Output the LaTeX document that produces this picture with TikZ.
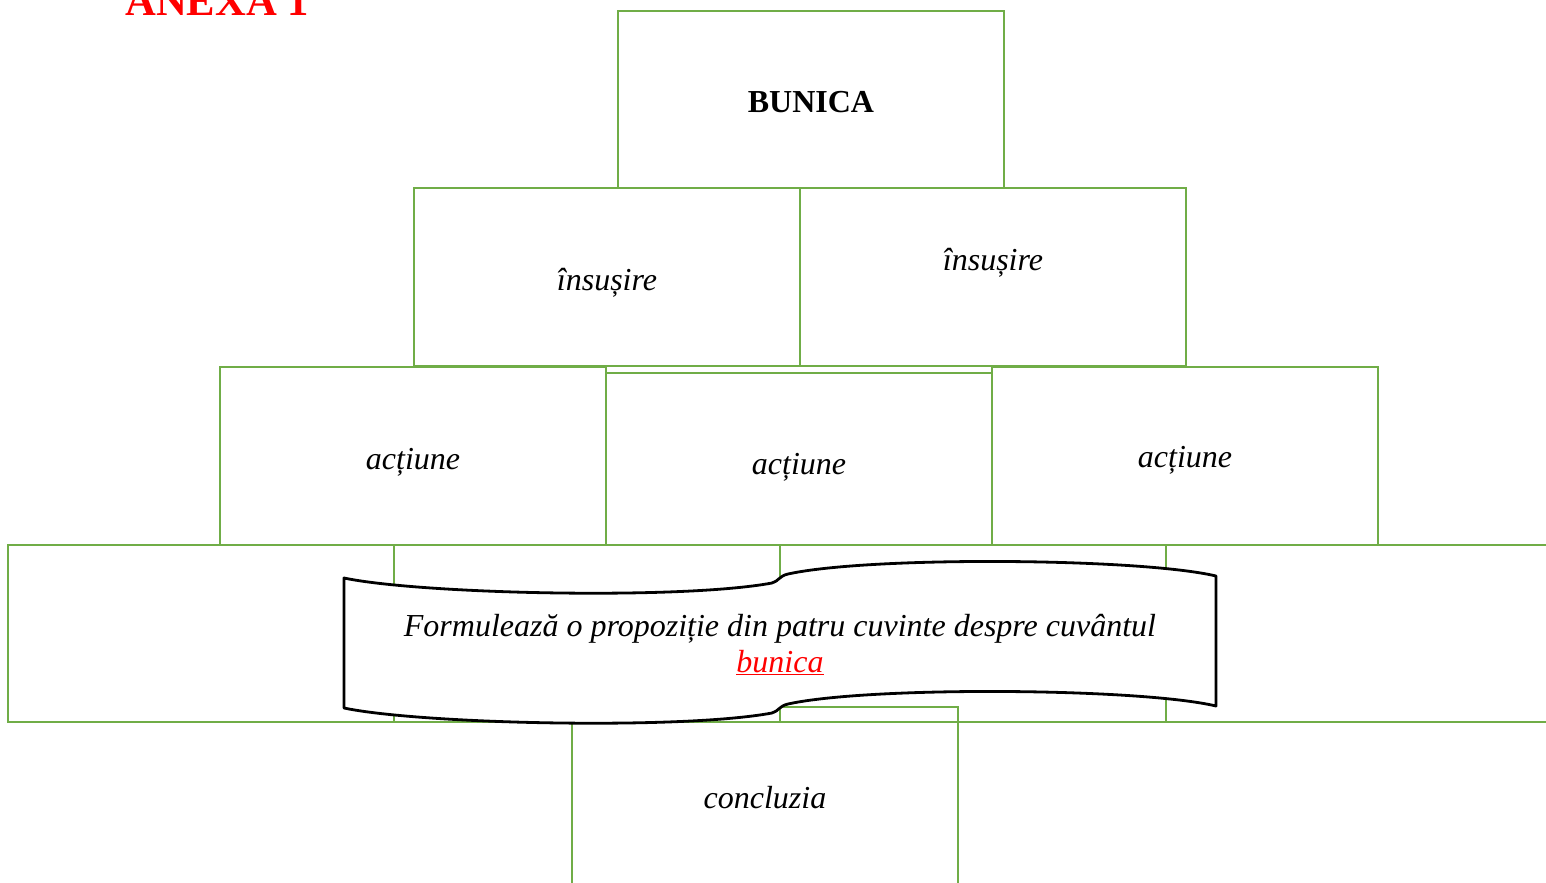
\documentclass[tikz,border=0pt]{standalone}
\usepackage{fontspec}
\setmainfont{Liberation Serif}
\definecolor{boxgreen}{HTML}{70AD47}
\definecolor{anexred}{HTML}{FF0000}
\begin{document}
\begin{tikzpicture}[x=0.75pt,y=-0.75pt,
  box/.style={draw=boxgreen, line width=2.1pt, minimum width=289.5pt, minimum height=133pt, inner sep=0pt},
  lbl/.style={font=\fontsize{24}{29}\selectfont\itshape, anchor=base, inner sep=0pt},
  scroll/.style={draw=black, line width=2.1pt, fill=white, line join=round}]
\clip (0,0) rectangle (1546,882);
\fill[white] (0,0) rectangle (1546,882);
% title
\node[anchor=base west, inner sep=0pt, text=anexred, font=\fontsize{32}{38}\selectfont\bfseries] (anexa) at (125,15) {ANEXA 1};
% top
\node[box, minimum height=132.75pt] (top) at (811,99.5) {};
\node[anchor=base, inner sep=0pt, font=\fontsize{24}{29}\selectfont\bfseries] (bunica) at (811,112) {BUNICA};
% row 2
\node[box, minimum height=133.5pt] (ins1) at (607,277) {};
\node[box, minimum height=133.5pt] (ins2) at (993,277) {};
\node[lbl] (tins1) at (607,290) {însușire};
\node[lbl] (tins2) at (993,270) {însușire};
% row 3
\node[box, minimum height=133.5pt] (act1) at (413,456) {};
\node[box, minimum height=129pt] (act2) at (799,459) {};
\node[box, minimum height=133.5pt] (act3) at (1185,456) {};
\node[lbl] (tact1) at (413,469) {acțiune};
\node[lbl] (tact2) at (799,474) {acțiune};
\node[lbl] (tact3) at (1185,467) {acțiune};
% row 4
\node[box, minimum height=132.75pt] (b1) at (201,633.5) {};
\node[box, minimum height=132.75pt] (b2) at (587,633.5) {};
\node[box, minimum height=132.75pt] (b3) at (973,633.5) {};
\node[box, minimum height=132.75pt] (b4) at (1359,633.5) {};
% conclusion
\node[box, minimum height=132.75pt] (concl) at (765,795.5) {};
\node[lbl] (tconcl) at (765,808) {concluzia};
% scroll banner
\draw[scroll] (344,578) .. controls (420,594) and (680,600) .. (772,583)
  .. controls (779,581) and (779,576) .. (788,574)
  .. controls (870,556) and (1140,558) .. (1216,576)
  -- (1216,706)
  .. controls (1140,688) and (870,686) .. (788,704)
  .. controls (779,706) and (779,711) .. (772,713)
  .. controls (680,730) and (420,724) .. (344,708) -- cycle;
\node[lbl] (task) at (780,636) {Formulează o propoziție din patru cuvinte despre cuvântul};
\node[lbl, text=anexred] (word) at (780,672) {\underline{bunica}};
\end{tikzpicture}
\end{document}
